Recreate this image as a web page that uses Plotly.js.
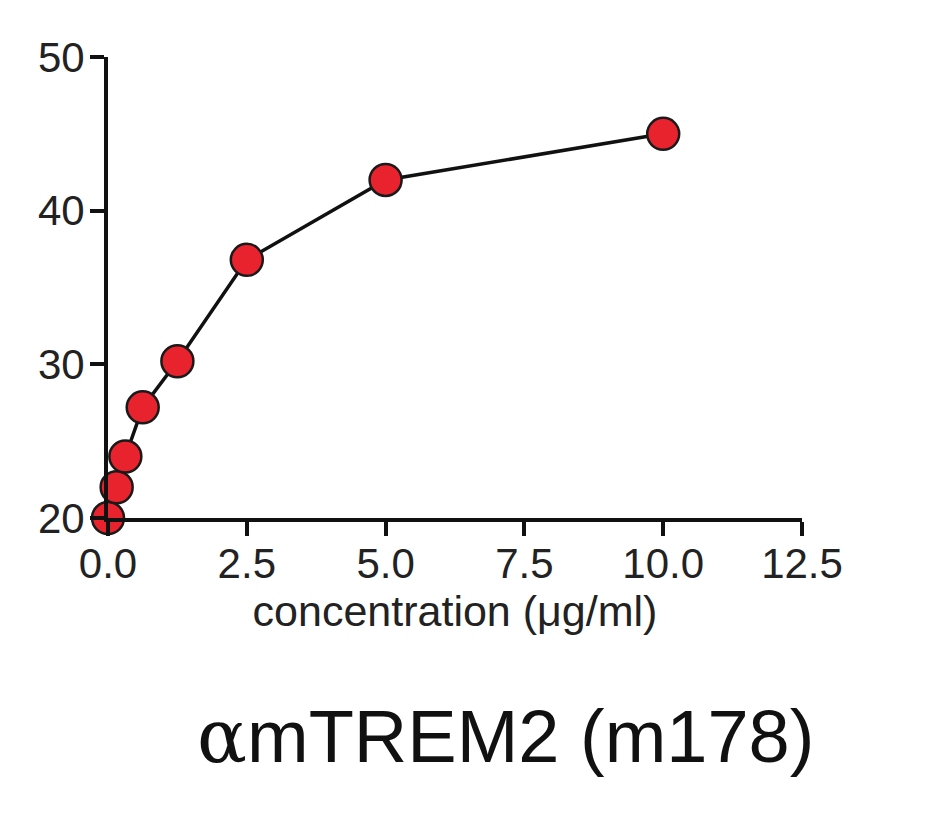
<!DOCTYPE html>
<html>
<head>
<meta charset="utf-8">
<script src="https://cdn.plot.ly/plotly-3.0.1.min.js"></script>
<style>html,body{margin:0;padding:0;background:#fff;}#chart{width:926px;height:826px;}</style>
</head>
<body>
<div id="chart"></div>
<script>
// Data
const concentration = [0, 0.156, 0.3125, 0.625, 1.25, 2.5, 5, 10];
const response = [20, 22.0, 24.0, 27.2, 30.2, 36.8, 42, 45];
const xTicks = [0, 2.5, 5, 7.5, 10, 12.5];
const xTickText = ['0.0', '2.5', '5.0', '7.5', '10.0', '12.5'];
const yTicks = [20, 30, 40, 50];
const xTitle = 'concentration (\u03bcg/ml)';
const chartLabel = '<span style="font-family:\'DejaVu Serif\',\'Liberation Serif\',serif">\u03b1</span>mTREM2 (m178)';

const trace = {
  x: concentration,
  y: response,
  type: 'scatter',
  mode: 'lines+markers',
  line: {color: '#111', width: 3.5},
  marker: {size: 32, color: '#e8232e', line: {color: '#1a1a1a', width: 2.5}},
  cliponaxis: false,
  hoverinfo: 'x+y'
};

const tickFont = {family: 'Liberation Sans, Arial, sans-serif', size: 42, color: '#222'};

const layout = {
  width: 926, height: 826,
  margin: {l: 108, r: 124, t: 57, b: 308},
  paper_bgcolor: '#fff', plot_bgcolor: '#fff',
  showlegend: false,
  xaxis: {
    range: [0, 12.5], tickmode: 'array', tickvals: xTicks, ticktext: xTickText,
    showgrid: false, zeroline: false, showline: true, linecolor: '#111', linewidth: 4,
    ticks: 'outside', ticklen: 14, tickwidth: 4, tickcolor: '#111',
    tickfont: tickFont, ticklabelstandoff: -8,
    title: {text: xTitle, font: {family: 'Liberation Sans, Arial, sans-serif', size: 43, color: '#222'}, standoff: 0},
    automargin: false
  },
  yaxis: {
    range: [20, 50], tickmode: 'array', tickvals: yTicks,
    showgrid: false, zeroline: false, showline: true, linecolor: '#111', linewidth: 4,
    ticks: 'outside', ticklen: 14, tickwidth: 4, tickcolor: '#111',
    tickfont: tickFont, ticklabelstandoff: -3, automargin: false
  },
  annotations: [{
    text: chartLabel, xref: 'paper', yref: 'paper', x: 0.573, y: -0.472,
    xanchor: 'center', yanchor: 'middle', showarrow: false,
    font: {family: 'Liberation Sans, Arial, sans-serif', size: 74, color: '#111'}
  }]
};

Plotly.newPlot('chart', [trace], layout, {displayModeBar: false, staticPlot: true});
</script>
</body>
</html>
